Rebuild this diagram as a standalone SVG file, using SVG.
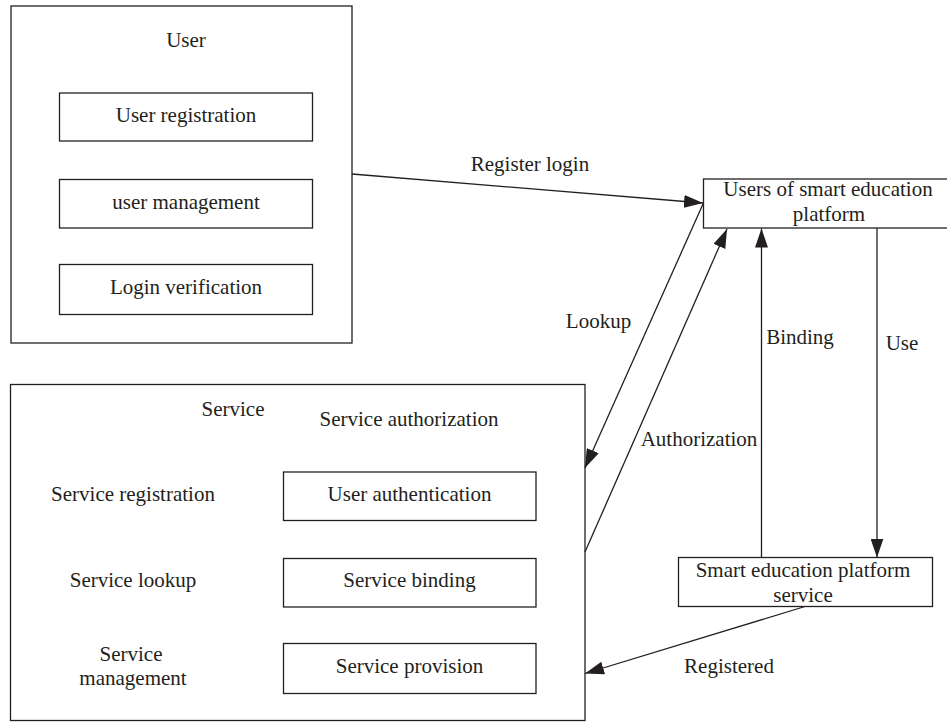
<svg xmlns="http://www.w3.org/2000/svg" width="947" height="722" viewBox="0 0 947 722">
  <style>
    .box { fill: none; stroke: #231f20; stroke-width: 1.3; }
    .t { font-family: "Liberation Serif", "Times New Roman", serif; font-size: 21px; fill: #231f20; text-anchor: middle; }
    .edge { fill: none; stroke: #231f20; stroke-width: 1.3; marker-end: url(#arrow); }
  </style>
  <defs>
    <marker id="arrow" markerUnits="userSpaceOnUse" markerWidth="19" markerHeight="13" refX="19" refY="6.5" orient="auto">
      <path d="M0,0 L19,6.5 L0,13 z" fill="#231f20"/>
    </marker>
  </defs>
  <rect width="947" height="722" fill="#ffffff"/>

  <!-- User module -->
  <g id="user">
    <rect class="box" x="11" y="6" width="341" height="337"/>
    <text class="t" x="186" y="47">User</text>
    <g id="user-registration">
      <rect class="box" x="59.5" y="93" width="253" height="48"/>
      <text class="t" x="186" y="122">User registration</text>
    </g>
    <g id="user-management">
      <rect class="box" x="59.5" y="179.5" width="253" height="48.5"/>
      <text class="t" x="186" y="209">user management</text>
    </g>
    <g id="login-verification">
      <rect class="box" x="59.5" y="264.5" width="253" height="50"/>
      <text class="t" x="186" y="294">Login verification</text>
    </g>
  </g>

  <!-- Service module -->
  <g id="service">
    <rect class="box" x="10.5" y="384.5" width="574.5" height="336"/>
    <text class="t" x="233" y="416">Service</text>
    <text class="t" x="409" y="426">Service authorization</text>
    <text class="t" x="133" y="501">Service registration</text>
    <text class="t" x="133" y="587">Service lookup</text>
    <text class="t" x="131" y="661">Service</text>
    <text class="t" x="133" y="685">management</text>
    <g id="user-authentication">
      <rect class="box" x="283.5" y="472" width="252.5" height="48.5"/>
      <text class="t" x="409.5" y="501">User authentication</text>
    </g>
    <g id="service-binding">
      <rect class="box" x="283.5" y="558.5" width="252.5" height="48.5"/>
      <text class="t" x="409.5" y="587">Service binding</text>
    </g>
    <g id="service-provision">
      <rect class="box" x="283.5" y="643.5" width="252.5" height="50"/>
      <text class="t" x="409.5" y="673">Service provision</text>
    </g>
  </g>

  <!-- Platform users -->
  <g id="platform-users">
    <rect class="box" x="703.5" y="179" width="245" height="49"/>
    <text class="t" x="828" y="196">Users of smart education</text>
    <text class="t" x="829" y="221">platform</text>
  </g>

  <!-- Platform service -->
  <g id="platform-service">
    <rect class="box" x="678.5" y="557.5" width="254" height="49"/>
    <text class="t" x="803" y="577">Smart education platform</text>
    <text class="t" x="803" y="602">service</text>
  </g>

  <!-- Connectors -->
  <g id="connectors">
    <line class="edge" x1="352" y1="174" x2="703" y2="203"/>
    <line class="edge" x1="703" y1="204" x2="585" y2="468"/>
    <line class="edge" x1="585" y1="552" x2="727" y2="229"/>
    <line class="edge" x1="761.5" y1="557.5" x2="761.5" y2="228.5"/>
    <line class="edge" x1="877" y1="228" x2="877" y2="557.5"/>
    <line class="edge" x1="805" y1="606.5" x2="585" y2="673.5"/>
  </g>

  <!-- Connector labels -->
  <g id="labels">
    <text class="t" x="530" y="171">Register login</text>
    <text class="t" x="598.5" y="328">Lookup</text>
    <text class="t" x="699" y="446">Authorization</text>
    <text class="t" x="800" y="344">Binding</text>
    <text class="t" x="902" y="350">Use</text>
    <text class="t" x="729" y="673">Registered</text>
  </g>
</svg>
